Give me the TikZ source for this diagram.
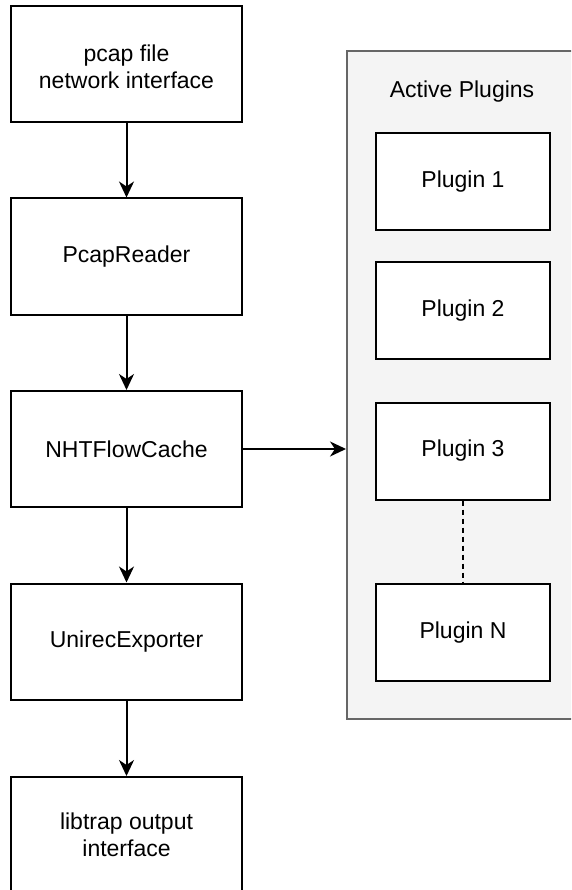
\documentclass[tikz,border=0pt]{standalone}
\usepackage{fontspec}
\setmainfont{Liberation Sans}
\usetikzlibrary{arrows.meta}
\definecolor{panelfill}{HTML}{F4F4F4}
\definecolor{panelline}{HTML}{666666}
\tikzset{
  label text/.style={font=\fontsize{23}{27.5}\selectfont},
  flowbox/.style={draw=black, line width=2pt, fill=white, align=center,
    inner sep=0pt, minimum width=231pt, minimum height=116pt, label text},
  plugbox/.style={draw=black, line width=2pt, fill=white, align=center,
    inner sep=0pt, minimum width=174pt, minimum height=97pt, label text},
  panel/.style={draw=panelline, line width=2pt, fill=panelfill,
    inner sep=0pt, minimum width=236pt, minimum height=668pt},
  flow/.style={line width=2pt, -{Stealth[length=16pt,width=15pt,inset=5pt]}},
  link/.style={line width=2pt, dash pattern=on 5pt off 4pt}
}
\begin{document}
\begin{tikzpicture}[x=1pt,y=-1pt]
  \useasboundingbox (0,0) rectangle (571,890);
  \clip (0,0) rectangle (571,890);
  \fill[white] (0,0) rectangle (571,890);

  % plugin container (runs off the right edge)
  \node[panel] (plugins) at (465,385) {};
  \node[label text] (title) at (462,92) {Active Plugins};
  \node[plugbox] (p1) at (463,181.5) {Plugin 1};
  \node[plugbox] (p2) at (463,310.5) {Plugin 2};
  \node[plugbox] (p3) at (463,451) {Plugin 3};
  \node[plugbox] (pn) at (463,632.5) {Plugin N};
  \draw[link] (p3.south) -- (pn.north);

  % processing pipeline
  \node[flowbox] (input) at (126.5,64) {};
  \node[label text, align=center] (inputtext) at (126.5,67) {pcap file\\network interface};
  \node[flowbox] (reader) at (126.5,256.5) {PcapReader};
  \node[flowbox] (cache) at (126.5,449) {NHTFlowCache};
  \node[flowbox] (exporter) at (126.5,641.5) {UnirecExporter};
  \node[flowbox] (output) at (126.5,835) {libtrap output\\interface};

  \draw[flow] (input) -- (reader);
  \draw[flow] (reader) -- (cache);
  \draw[flow] (cache) -- (exporter);
  \draw[flow] (exporter) -- (output);
  \draw[flow] (cache.east) -- (cache.east -| plugins.west);
\end{tikzpicture}
\end{document}
